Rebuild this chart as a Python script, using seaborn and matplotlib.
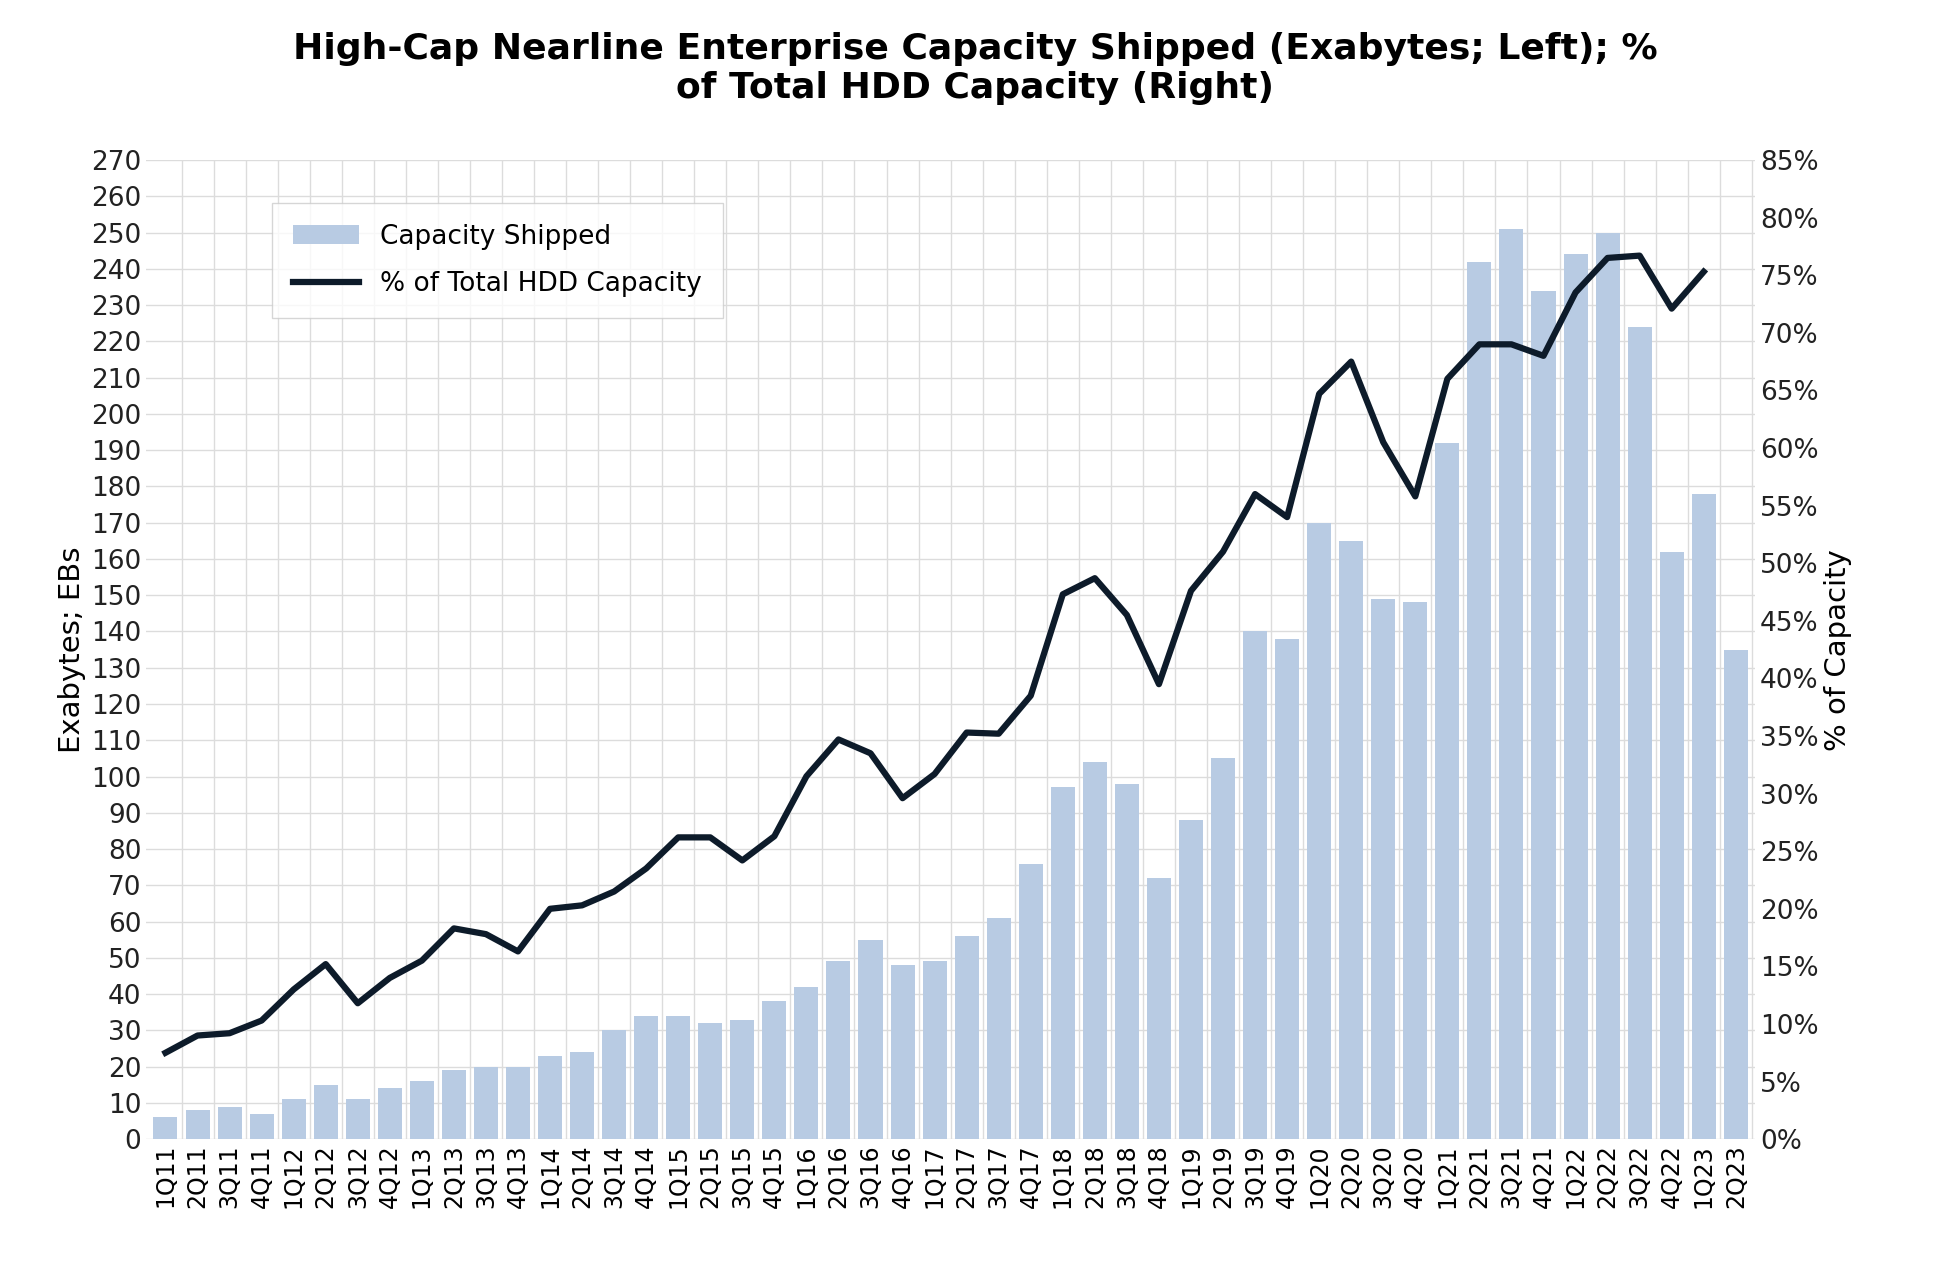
import numpy as np
import pandas as pd
import matplotlib.pyplot as plt
import seaborn as sns

# Quarter labels 1Q11 .. 2Q23
quarters = [f"{q}Q{y}" for y in range(11, 24) for q in range(1, 5)][:50]

# Capacity shipped, exabytes (left axis)
capacity_eb = [6, 8, 9, 7, 11, 15, 11, 14, 16, 19, 20, 20, 23, 24, 30, 34, 34, 32, 33, 38,
               42, 49, 55, 48, 49, 56, 61, 76, 97, 104, 98, 72, 88, 105, 140, 138, 170, 165, 149, 148,
               192, 242, 251, 234, 244, 250, 224, 162, 178, 135]

# % of total HDD capacity (right axis), ends at 1Q23
pct_total = [7.5, 9, 9.2, 10.3, 13, 15.2, 11.8, 14, 15.5, 18.3, 17.8, 16.3, 20, 20.3, 21.5, 23.5,
             26.2, 26.2, 24.2, 26.3, 31.5, 34.7, 33.5, 29.6, 31.7, 35.3, 35.2, 38.5, 47.3, 48.7,
             45.5, 39.5, 47.6, 51, 56, 54, 64.7, 67.5, 60.5, 55.8, 66, 69, 69, 68, 73.5, 76.5,
             76.7, 72.1, 75.3]

df = pd.DataFrame({"quarter": quarters, "capacity": capacity_eb})

fig, ax = plt.subplots(figsize=(19.5, 12.8), dpi=100)
sns.barplot(data=df, x="quarter", y="capacity", color="#b8cbe3", saturation=1, width=0.75,
            ax=ax, label="Capacity Shipped", zorder=2)
ax.set_ylim(0, 270)
ax.set_xlim(-0.6, len(quarters) - 0.4)
ax.set_yticks(range(0, 271, 10))
ax.set_xticks(np.arange(len(quarters)) + 0.5, minor=True)
ax.grid(True, which="major", axis="y", color="#dcdcdc", lw=1, zorder=0)
ax.grid(True, which="minor", axis="x", color="#dcdcdc", lw=1, zorder=0)
ax.set_axisbelow(True)
ax.tick_params(axis="x", which="both", length=0, labelrotation=90, labelsize=17)
ax.tick_params(axis="y", length=0, labelsize=19, colors="#222222")
ax.set_xlabel("")
ax.set_ylabel("Exabytes; EBs", fontsize=21)
for s in ax.spines.values():
    s.set_visible(False)

ax2 = ax.twinx()
sns.lineplot(x=np.arange(len(pct_total)), y=pct_total, color="#0d1b2a", lw=4.5, ax=ax2,
             label="% of Total HDD Capacity", legend=False)
ax2.set_ylim(0, 85)
ax2.set_yticks(range(0, 86, 5))
ax2.set_yticklabels([f"{v}%" for v in range(0, 86, 5)])
ax2.tick_params(axis="y", length=0, labelsize=19, colors="#222222")
ax2.set_ylabel("% of Capacity", fontsize=21)
for s in ax2.spines.values():
    s.set_visible(False)

h1, l1 = ax.get_legend_handles_labels()
h2, l2 = ax2.get_legend_handles_labels()
if ax.get_legend():
    ax.get_legend().remove()
ax.legend(h1 + h2, l1 + l2, loc="upper left", bbox_to_anchor=(0.07, 0.97), fontsize=19,
          frameon=True, fancybox=False, edgecolor="#cccccc", handlelength=2.5,
          borderpad=0.8, labelspacing=0.8)

fig.suptitle("High-Cap Nearline Enterprise Capacity Shipped (Exabytes; Left); %\nof Total HDD Capacity (Right)",
             fontsize=26, fontweight="bold", y=0.975)
fig.subplots_adjust(left=0.075, right=0.9, top=0.875, bottom=0.11)
fig.savefig("out.png")
